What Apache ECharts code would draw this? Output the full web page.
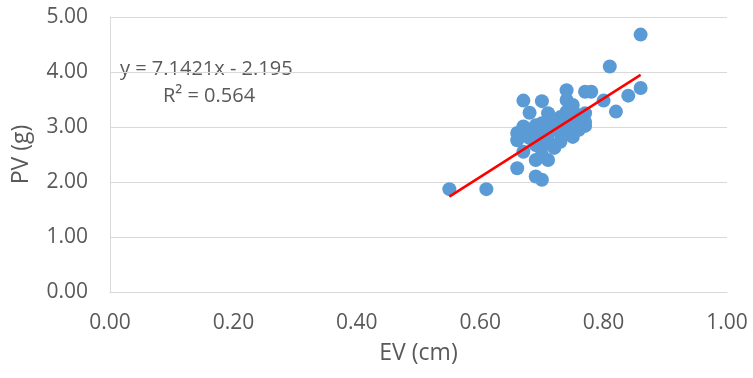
<!DOCTYPE html>
<html><head><meta charset="utf-8">
<script src="https://cdn.jsdelivr.net/npm/echarts@6/dist/echarts.min.js"></script>
<style>html,body{margin:0;padding:0;background:#fff}#c{width:753px;height:378px}</style>
</head><body><div id="c"></div>
<script>
const evValues = [0.55,0.61,0.66,0.69,0.70,0.69,0.71,0.70,0.67,0.69,0.70,0.72,0.66,0.66,0.68,0.69,0.67,0.69,0.70,0.71,0.72,0.73,0.71,0.73,0.75,0.76,0.67,0.70,0.68,0.71,0.74,0.74,0.75,0.74,0.77,0.78,0.77,0.77,0.77,0.80,0.82,0.84,0.86,0.81,0.86,0.70,0.72,0.74,0.75,0.73,0.68,0.71,0.74,0.75,0.76];
const pvValues = [1.87,1.87,2.25,2.10,2.04,2.40,2.40,2.49,2.55,2.67,2.64,2.62,2.76,2.89,2.80,2.85,3.01,3.03,3.07,3.10,3.01,2.89,2.76,2.73,2.82,2.95,3.48,3.47,3.26,3.25,3.67,3.49,3.40,3.28,3.64,3.64,3.25,3.02,3.09,3.48,3.28,3.57,3.71,4.10,4.68,2.93,2.95,3.05,3.15,3.18,2.95,2.88,2.95,3.30,3.20];
const trendSlope = 7.1421, trendIntercept = -2.195;
const trendX = [0.55, 0.86];
const xTicks = [0,0.2,0.4,0.6,0.8,1.0];
const yTicks = [0,1,2,3,4,5];

const pts = evValues.map((v,i)=>[v,pvValues[i]]);
const trend = trendX.map(x=>[x, trendSlope*x+trendIntercept]);
const font = 'Open Sans';
const chart = echarts.init(document.getElementById('c'));
chart.setOption({
  animation:false,
  grid:{left:110,right:26,top:17,bottom:86},
  xAxis:{type:'value',min:0,max:1,interval:0.2,
    axisLine:{show:true,lineStyle:{color:'#d9d9d9'}},axisTick:{show:false},splitLine:{show:false},
    axisLabel:{formatter:v=>v.toFixed(2),color:'#595959',fontSize:21,fontFamily:font,margin:21},
    name:'EV (cm)',nameLocation:'middle',nameGap:50,nameTextStyle:{color:'#595959',fontSize:23,fontFamily:font}},
  yAxis:{type:'value',min:0,max:5,interval:1,
    axisLine:{show:true,lineStyle:{color:'#d9d9d9'}},axisTick:{show:false},
    splitLine:{lineStyle:{color:'#d9d9d9'}},
    axisLabel:{formatter:v=>v.toFixed(2),color:'#595959',fontSize:21,fontFamily:font,margin:22},
    name:'PV (g)',nameLocation:'middle',nameGap:77,nameTextStyle:{color:'#595959',fontSize:23,fontFamily:font}},
  series:[
    {type:'scatter',data:pts,symbolSize:14,itemStyle:{color:'#5b9bd5',opacity:1}},
    {type:'line',data:trend,showSymbol:false,lineStyle:{color:'#ff0000',width:2.5},z:3}
  ],
  graphic:[
    {type:'text',left:120,top:59,style:{text:'y = 7.1421x - 2.195',fill:'#595959',fontSize:20,fontFamily:font}},
    {type:'text',left:163,top:86,style:{text:'R² = 0.564',fill:'#595959',fontSize:20,fontFamily:font}}
  ]
});
</script></body></html>
